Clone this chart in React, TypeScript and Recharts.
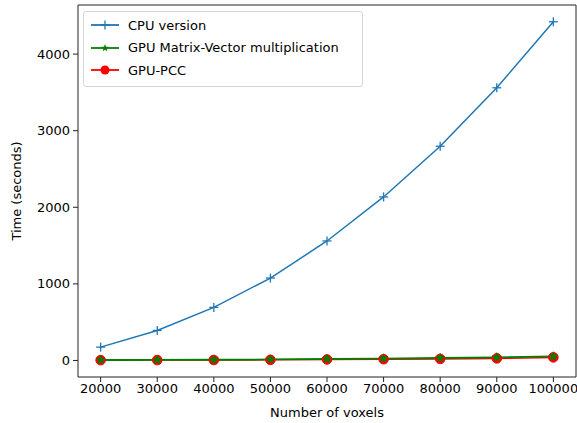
import React from 'react';
import { LineChart, Line, XAxis, YAxis, ReferenceArea } from 'recharts';

// values
const voxels = [20000, 30000, 40000, 50000, 60000, 70000, 80000, 90000, 100000];
const cpuTime = [174, 392, 693, 1076, 1560, 2135, 2797, 3560, 4422];
const gpuMatVecTime = [6, 7, 9, 13, 19, 25, 32, 40, 52];
const gpuPccTime = [4, 5, 6, 8, 13, 16, 20, 27, 40];

const xTicks = [20000, 30000, 40000, 50000, 60000, 70000, 80000, 90000, 100000];
const yTicks = [0, 1000, 2000, 3000, 4000];

const data = voxels.map((v, i) => ({
  voxels: v,
  cpu: cpuTime[i],
  gpuMv: gpuMatVecTime[i],
  gpuPcc: gpuPccTime[i],
}));

const BLUE = '#1f77b4';
const GREEN = '#008000';
const RED = '#ff0000';
const FONT = '"DejaVu Sans", sans-serif';

const starPath = (cx: number, cy: number, r: number) => {
  const pts: string[] = [];
  for (let i = 0; i < 10; i++) {
    const rad = i % 2 === 0 ? r : r * 0.42;
    const a = -Math.PI / 2 + (i * Math.PI) / 5;
    pts.push(`${cx + rad * Math.cos(a)},${cy + rad * Math.sin(a)}`);
  }
  return `M${pts.join('L')}Z`;
};

const PlusDot = (props: any) => {
  const { cx, cy } = props;
  if (cx == null || cy == null) return null;
  return (
    <g stroke={BLUE} strokeWidth={1.3}>
      <line x1={cx - 4.5} y1={cy} x2={cx + 4.5} y2={cy} />
      <line x1={cx} y1={cy - 4.5} x2={cx} y2={cy + 4.5} />
    </g>
  );
};

const StarDot = (props: any) => {
  const { cx, cy } = props;
  if (cx == null || cy == null) return null;
  return <path d={starPath(cx, cy, 4.8)} fill={GREEN} stroke={GREEN} strokeWidth={0.6} />;
};

const CircleDot = (props: any) => {
  const { cx, cy } = props;
  if (cx == null || cy == null) return null;
  return <circle cx={cx} cy={cy} r={4.8} fill={RED} stroke={RED} />;
};

const legendItems = [
  { label: 'CPU version', color: BLUE, marker: 'plus' },
  { label: 'GPU Matrix-Vector multiplication', color: GREEN, marker: 'star' },
  { label: 'GPU-PCC', color: RED, marker: 'circle' },
];

const LegendBox = () => (
  <div
    style={{
      position: 'absolute',
      left: 83,
      top: 11,
      width: 280,
      height: 76,
      border: '1px solid #d6d6d6',
      borderRadius: 3,
      background: 'rgba(255,255,255,0.8)',
      boxSizing: 'border-box',
      fontFamily: FONT,
      fontSize: 13,
      color: '#000',
    }}
  >
    {legendItems.map((item, i) => (
      <div key={item.label} style={{ position: 'absolute', left: 0, top: 3 + i * 22.5, height: 20, display: 'flex', alignItems: 'center' }}>
        <svg width={44} height={20} style={{ display: 'block' }}>
          <line x1={7} y1={10} x2={35} y2={10} stroke={item.color} strokeWidth={1.8} />
          {item.marker === 'plus' && <PlusDot cx={21} cy={10} />}
          {item.marker === 'star' && <path d={starPath(21, 10, 4)} fill={GREEN} />}
          {item.marker === 'circle' && <circle cx={21} cy={10} r={4.5} fill={RED} />}
        </svg>
        <span style={{ whiteSpace: 'nowrap' }}>{item.label}</span>
      </div>
    ))}
  </div>
);

export default function App() {
  const tickStyle = { fontFamily: FONT, fontSize: 13, fill: '#000' };
  return (
    <div style={{ position: 'relative', width: 577, height: 423, background: '#fff', overflow: 'hidden' }}>
      <style>{'body { margin: 0; }'}</style>
      <LineChart width={577} height={423} data={data} margin={{ top: 5, right: 1, left: 0, bottom: 0 }}>
        <ReferenceArea x1={16000} x2={104000} y1={-216} y2={4641} fill="none" stroke="#222" strokeWidth={1} ifOverflow="visible" />
        <XAxis
          dataKey="voxels"
          type="number"
          domain={[16000, 104000]}
          ticks={xTicks}
          interval={0}
          height={46}
          tickSize={5}
          tickMargin={2}
          axisLine={false}
          tickLine={{ stroke: '#222' }}
          tick={tickStyle}
          label={{ value: 'Number of voxels', position: 'insideBottom', offset: 6, style: { ...tickStyle } }}
        />
        <YAxis
          type="number"
          domain={[-216, 4641]}
          ticks={yTicks}
          interval={0}
          width={78}
          tickSize={5}
          tickMargin={3}
          axisLine={false}
          tickLine={{ stroke: '#222' }}
          tick={tickStyle}
          label={{ value: 'Time (seconds)', angle: -90, position: 'insideLeft', offset: 16, style: { ...tickStyle, textAnchor: 'middle' } }}
        />
        <Line dataKey="gpuPcc" stroke={RED} strokeWidth={1.5} dot={<CircleDot />} activeDot={false} isAnimationActive={false} />
        <Line dataKey="gpuMv" stroke={GREEN} strokeWidth={1.8} dot={<StarDot />} activeDot={false} isAnimationActive={false} />
        <Line dataKey="cpu" stroke={BLUE} strokeWidth={1.5} dot={<PlusDot />} activeDot={false} isAnimationActive={false} />
      </LineChart>
      <LegendBox />
    </div>
  );
}
